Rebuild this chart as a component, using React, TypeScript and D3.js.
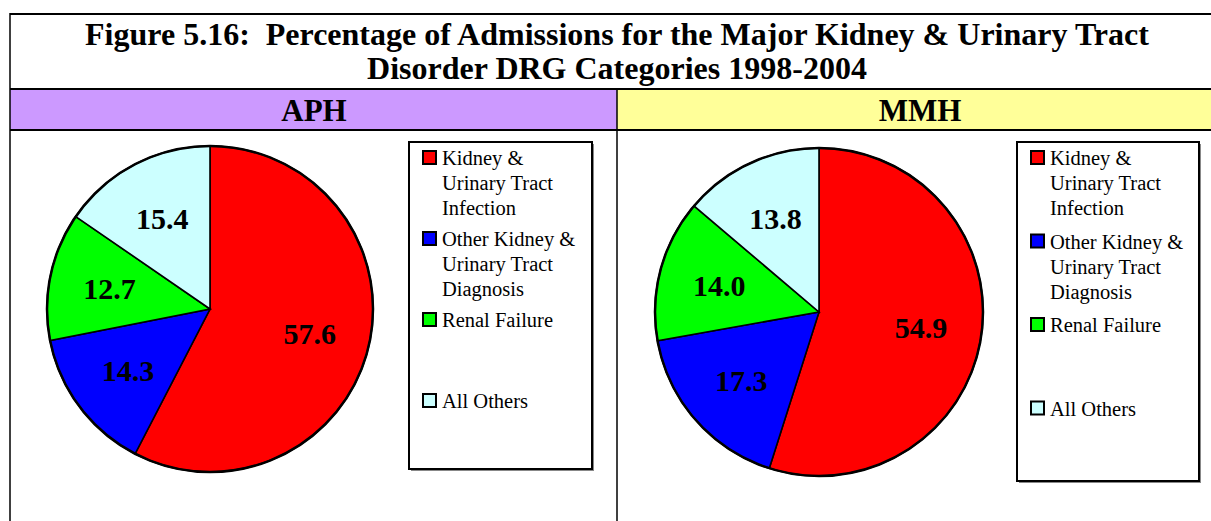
import React from 'react';
import * as d3 from 'd3';

const categories = [
  ['Kidney &', 'Urinary Tract', 'Infection'],
  ['Other Kidney &', 'Urinary Tract', 'Diagnosis'],
  ['Renal Failure'],
  ['All Others'],
];
const sliceColors = ['#FF0000', '#0000FF', '#00FF00', '#CCFFFF'];
const aphValues = [57.6, 14.3, 12.7, 15.4];
const mmhValues = [54.9, 17.3, 14.0, 13.8];
const titleLines = [
  'Figure 5.16:  Percentage of Admissions for the Major Kidney & Urinary Tract',
  'Disorder DRG Categories 1998-2004',
];
const panelNames = ['APH', 'MMH'];

const W = 1211;
const H = 521;
const serif = '"Liberation Serif", "Times New Roman", serif';

interface PanelProps {
  values: number[];
  cx: number;
  cy: number;
  r: number;
  legend: { x: number; y: number; w: number; h: number; step: number };
}

const Panel: React.FC<PanelProps> = ({ values, cx, cy, r, legend }) => {
  const pie = d3.pie<number>().sort(null).value(d => d);
  const arcs = pie(values);
  const arc = d3.arc<d3.PieArcDatum<number>>().innerRadius(0).outerRadius(r);
  // label ring, roughly where Excel drops the data labels
  const labelArc = d3.arc<d3.PieArcDatum<number>>().innerRadius(r * 0.63).outerRadius(r * 0.63);

  return (
    <g>
      <g transform={`translate(${cx},${cy})`}>
        {arcs.map((a, i) => (
          <path key={i} d={arc(a) || ''} fill={sliceColors[i]} stroke="#000" strokeWidth={1.6} />
        ))}
        <circle r={r} fill="none" stroke="#000" strokeWidth={2.5} />
        {arcs.map((a, i) => {
          const [lx, ly] = labelArc.centroid(a);
          return (
            <text key={i} x={lx} y={ly} dy="0.35em" textAnchor="middle"
              fontFamily={serif} fontWeight="bold" fontSize={30} fill="#000">
              {values[i].toFixed(1)}
            </text>
          );
        })}
      </g>
      <rect x={legend.x + 2} y={legend.y + 2} width={legend.w} height={legend.h} fill="#888" />
      <rect x={legend.x} y={legend.y} width={legend.w} height={legend.h} fill="#fff" stroke="#000" strokeWidth={2} />
      {categories.map((lines, i) => {
        const top = legend.y + 9 + i * legend.step;
        return (
          <g key={i}>
            <rect x={legend.x + 14} y={top} width={13} height={13} fill={sliceColors[i]} stroke="#000" strokeWidth={2} />
            {lines.map((ln, j) => (
              <text key={j} x={legend.x + 33} y={top + 14 + j * 25}
                fontFamily={serif} fontSize={20.5} fill="#000">{ln}</text>
            ))}
          </g>
        );
      })}
    </g>
  );
};

const App: React.FC = () => {
  return (
    <svg width={W} height={H} style={{ position: 'absolute', left: 0, top: 0, background: '#fff' }}>
      <rect x={0} y={0} width={W} height={H} fill="#fff" />
      {/* header row backgrounds */}
      <rect x={10} y={89} width={607} height={41} fill="#CC99FF" />
      <rect x={617} y={89} width={W - 617} height={41} fill="#FFFF99" />
      {/* table lines */}
      <line x1={10} y1={14} x2={W} y2={14} stroke="#000" strokeWidth={2} />
      <line x1={10} y1={89} x2={W} y2={89} stroke="#000" strokeWidth={2} />
      <line x1={10} y1={130} x2={W} y2={130} stroke="#000" strokeWidth={2} />
      <line x1={10} y1={13} x2={10} y2={H} stroke="#000" strokeWidth={1.5} />
      <line x1={617} y1={89} x2={617} y2={H} stroke="#000" strokeWidth={1.5} />
      {titleLines.map((t, i) => (
        <text key={i} x={617} y={45 + i * 34} textAnchor="middle" fontFamily={serif}
          fontWeight="bold" fontSize={32} fill="#000" style={{ whiteSpace: 'pre' }}>{t}</text>
      ))}
      {panelNames.map((n, i) => (
        <text key={n} x={i === 0 ? 314 : 920} y={121} textAnchor="middle" fontFamily={serif}
          fontWeight="bold" fontSize={31} fill="#000">{n}</text>
      ))}
      <Panel values={aphValues} cx={210} cy={309} r={163}
        legend={{ x: 409, y: 142, w: 183, h: 327, step: 81 }} />
      <Panel values={mmhValues} cx={819} cy={312} r={164}
        legend={{ x: 1017, y: 142, w: 182, h: 339, step: 83.5 }} />
    </svg>
  );
};

export default App;
